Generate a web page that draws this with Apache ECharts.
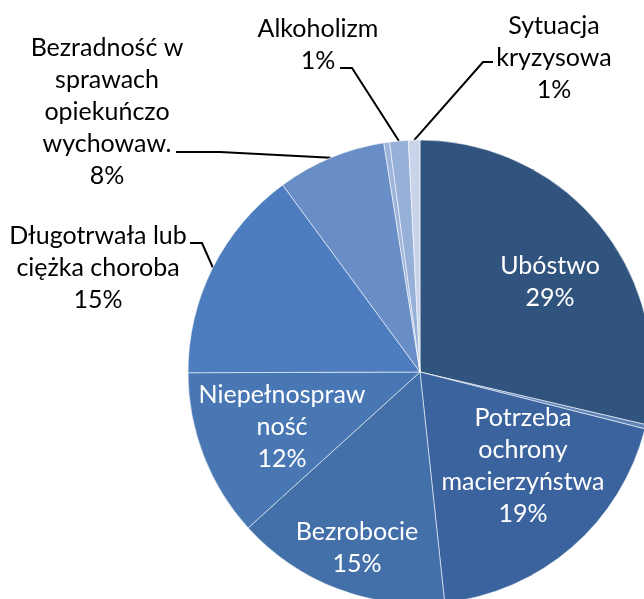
<!DOCTYPE html>
<html>
<head>
<meta charset="utf-8">
<script src="https://cdn.jsdelivr.net/npm/echarts@6/dist/echarts.min.js"></script>
<style>
  html, body { margin: 0; padding: 0; background: #fff; }
  #chart { width: 644px; height: 599px; }
</style>
</head>
<body>
<div id="chart"></div>
<script>
// kategorie (z ręcznym łamaniem linii jak w oryginale)
const categories = [
  "Ubóstwo",
  "",
  "Potrzeba\nochrony\nmacierzyństwa",
  "Bezrobocie",
  "Niepełnospraw\nność",
  "Długotrwała lub\nciężka choroba",
  "Bezradność w\nsprawach\nopiekuńczo\nwychowaw.",
  "",
  "Alkoholizm",
  "Sytuacja\nkryzysowa",
];
// udział procentowy
const shares = [28.7, 0.3, 19.4, 15.0, 11.7, 15.0, 7.6, 0.4, 1.3, 0.8];
// kolory wycinków
const colors = ["#31547E", "#5F83B8", "#3B639E", "#4470AA", "#4877B4", "#4D7DBE", "#698EC6", "#9DB4DA", "#97B0D8", "#C9D4EA"];

const cx = 420, cy = 372, R = 232;
const total = shares.reduce((a, b) => a + b, 0);

// gdzie stoją etykiety (środek bloku tekstu) i załamania linii odniesienia
const spots = [
  { x: 550, y: 282 },
  null,
  { x: 523, y: 466 },
  { x: 357, y: 548 },
  { x: 282, y: 427 },
  { x: 98, y: 268, line: [[202, 243], [190, 243]] },
  { x: 107, y: 112, line: [[220, 152], [176, 152]] },
  null,
  { x: 318, y: 45, line: [[352, 68], [340, 68]] },
  { x: 554, y: 58, line: [[483, 62], [493, 62]] },
];

// punkt na krawędzi koła w połowie wycinka
function edgePoint(i) {
  const before = shares.slice(0, i).reduce((a, b) => a + b, 0);
  const mid = (before + shares[i] / 2) / total * 2 * Math.PI;
  return [cx + R * Math.sin(mid), cy - R * Math.cos(mid)];
}

const data = categories.map((name, i) => {
  const spot = spots[i];
  const item = { name: name, value: shares[i], itemStyle: { color: colors[i] } };
  if (!spot) {
    item.label = { show: false };
    item.labelLine = { show: false };
  } else if (spot.line) {
    item.label = { show: true, position: "outside", color: "#000" };
    item.labelLine = { show: true };
  } else {
    item.label = { show: true, position: "inside", color: "#fff" };
  }
  return item;
});

const myChart = echarts.init(document.getElementById("chart"));
myChart.setOption({
  animation: false,
  series: [
    {
      type: "pie",
      center: [cx, cy],
      radius: R,
      startAngle: 90,
      clockwise: true,
      avoidLabelOverlap: false,
      itemStyle: { borderColor: "rgba(255,255,255,0.55)", borderWidth: 1 },
      label: {
        fontFamily: "Lato",
        fontSize: 25,
        lineHeight: 32,
        align: "center",
        formatter: p => p.name + "\n" + Math.round(p.percent) + "%",
      },
      labelLine: { lineStyle: { color: "#000", width: 2 } },
      emphasis: { disabled: true },
      labelLayout: params => {
        const spot = spots[params.dataIndex];
        if (!spot) return {};
        const out = { x: spot.x, y: spot.y, align: "center", verticalAlign: "middle" };
        if (spot.line) {
          out.labelLinePoints = [edgePoint(params.dataIndex), spot.line[0], spot.line[1]];
        }
        return out;
      },
      data: data,
    },
  ],
});
</script>
</body>
</html>
